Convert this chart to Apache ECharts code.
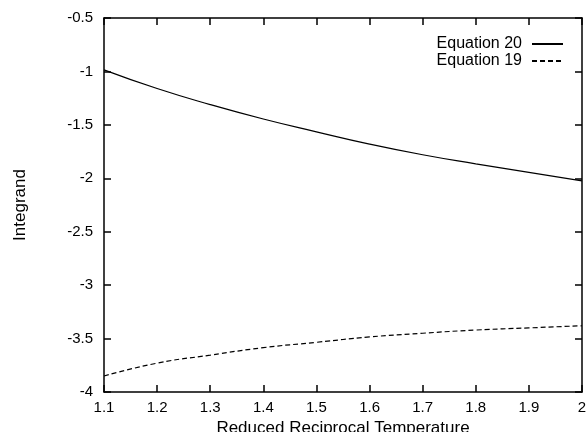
<!DOCTYPE html>
<html>
<head>
<meta charset="utf-8">
<script src="https://cdn.jsdelivr.net/npm/echarts@6/dist/echarts.min.js"></script>
<style>
  html, body { margin: 0; padding: 0; background: #fff; }
  #chart { width: 586px; height: 432px; }
</style>
</head>
<body>
<div id="chart"></div>
<script>
// values
var temps = [1.1, 1.2, 1.3, 1.4, 1.5, 1.6, 1.7, 1.8, 1.9, 2.0];
var eq20 = [-0.985, -1.16, -1.31, -1.445, -1.565, -1.68, -1.78, -1.865, -1.945, -2.025];
var eq19 = [-3.85, -3.73, -3.655, -3.585, -3.535, -3.485, -3.45, -3.42, -3.40, -3.38];

function pairs(xs, ys) {
  return xs.map(function (x, i) { return [x, ys[i]]; });
}

var font = 'Liberation Sans';
var chart = echarts.init(document.getElementById('chart'));

var boxLine = { show: true, onZero: false, lineStyle: { color: '#000', width: 1.5 } };
var tick = { show: true, inside: true, length: 7, lineStyle: { color: '#000', width: 1.5 } };

var option = {
  animation: false,
  grid: { left: 104, right: 4, top: 18, bottom: 40, outerBoundsMode: 'none', containLabel: false },
  legend: {
    orient: 'vertical',
    right: 17,
    top: 31,
    align: 'right',
    itemWidth: 31,
    itemHeight: 10,
    itemGap: 1,
    itemStyle: { opacity: 0 },
    textStyle: { fontFamily: font, fontSize: 16, color: '#000', padding: [0, 5, 0, 0] },
    data: ['Equation 20', 'Equation 19']
  },
  xAxis: [{
    type: 'value',
    min: 1.1, max: 2, interval: 0.1,
    name: 'Reduced Reciprocal Temperature',
    nameLocation: 'middle',
    nameGap: 22,
    nameTextStyle: { fontFamily: font, fontSize: 17, color: '#000' },
    axisLine: boxLine,
    axisTick: tick,
    splitLine: { show: false },
    axisLabel: {
      fontFamily: font, fontSize: 15, color: '#000', margin: 8,
      formatter: function (v) { return String(+v.toFixed(1)); }
    }
  }, {
    type: 'value', position: 'top',
    min: 1.1, max: 2, interval: 0.1,
    axisLine: boxLine, axisTick: tick,
    axisLabel: { show: false }, splitLine: { show: false }
  }],
  yAxis: [{
    type: 'value',
    min: -4, max: -0.5, interval: 0.5,
    name: 'Integrand',
    nameLocation: 'middle',
    nameGap: 75,
    nameTextStyle: { fontFamily: font, fontSize: 17, color: '#000' },
    axisLine: boxLine,
    axisTick: tick,
    splitLine: { show: false },
    axisLabel: {
      fontFamily: font, fontSize: 15, color: '#000', margin: 11,
      formatter: function (v) { return String(+v.toFixed(1)); }
    }
  }, {
    type: 'value', position: 'right',
    min: -4, max: -0.5, interval: 0.5,
    axisLine: boxLine, axisTick: tick,
    axisLabel: { show: false }, splitLine: { show: false }
  }],
  series: [{
    name: 'Equation 20',
    type: 'line',
    smooth: true,
    symbol: 'none',
    lineStyle: { color: '#000', width: 1.2, type: 'solid' },
    itemStyle: { color: '#000' },
    data: pairs(temps, eq20)
  }, {
    name: 'Equation 19',
    type: 'line',
    smooth: true,
    symbol: 'none',
    lineStyle: { color: '#000', width: 1.2, type: [5, 3] },
    itemStyle: { color: '#000' },
    data: pairs(temps, eq19)
  }]
};
chart.setOption(option);
</script>
</body>
</html>
